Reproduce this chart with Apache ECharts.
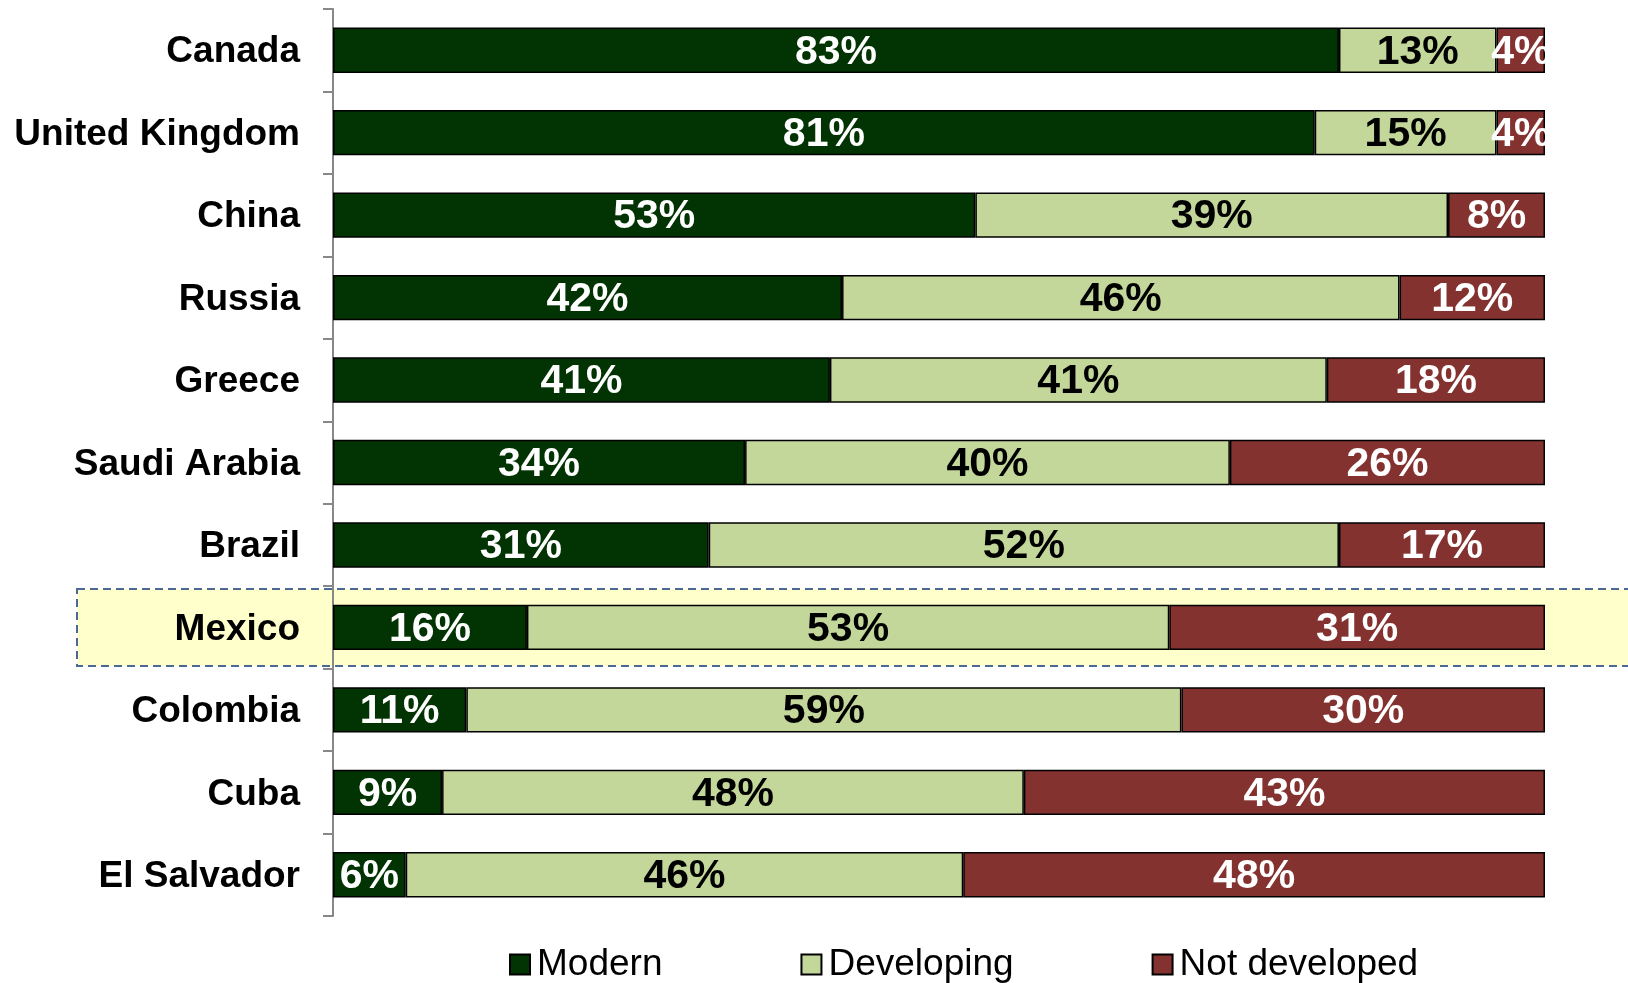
<!DOCTYPE html>
<html>
<head>
<meta charset="utf-8">
<script src="https://cdn.jsdelivr.net/npm/echarts@6/dist/echarts.min.js"></script>
<style>
  html, body { margin: 0; padding: 0; background: #fff; }
  #main { width: 1628px; height: 983px; }
</style>
</head>
<body>
<div id="main"></div>
<script>
// categories, top to bottom
var countries = ["Canada", "United Kingdom", "China", "Russia", "Greece", "Saudi Arabia",
  "Brazil", "Mexico", "Colombia", "Cuba", "El Salvador"];
var modern = [83, 81, 53, 42, 41, 34, 31, 16, 11, 9, 6];
var developing = [13, 15, 39, 46, 41, 40, 52, 53, 59, 48, 46];
var notDeveloped = [4, 4, 8, 12, 18, 26, 17, 31, 30, 43, 48];
var highlighted = "Mexico";

var font = "'Liberation Sans', Arial, sans-serif";

function barSeries(name, data, color, labelColor) {
  return {
    name: name,
    type: "bar",
    stack: "total",
    data: data,
    barWidth: "55%",
    itemStyle: { color: color, borderColor: "#000", borderWidth: 1.5 },
    label: {
      show: true,
      position: "inside",
      offset: [0, 2],
      formatter: "{c}%",
      color: labelColor,
      fontFamily: font,
      fontWeight: "bold",
      fontSize: 41,
    },
    emphasis: { disabled: true },
  };
}

var chart = echarts.init(document.getElementById("main"));
var option = {
  animation: false,
  grid: { left: 333, right: 83, top: 9, bottom: 67 },
  xAxis: {
    type: "value",
    min: 0,
    max: 100,
    show: false,
  },
  yAxis: {
    type: "category",
    inverse: true,
    data: countries,
    axisLine: { show: true, lineStyle: { color: "#888", width: 2 } },
    axisTick: { show: true, length: 10, lineStyle: { color: "#888", width: 2 } },
    axisLabel: {
      color: "#000",
      fontFamily: font,
      fontWeight: "bold",
      fontSize: 37,
      margin: 33,
      formatter: "{n|{value}}",
      rich: { n: { fontFamily: font, fontWeight: "bold", fontSize: 37, color: "#000", padding: [4, 0, 0, 0] } },
    },
  },
  legend: {
    left: 509,
    top: 946,
    padding: 0,
    icon: "rect",
    itemWidth: 20,
    itemHeight: 20,
    itemGap: 138,
    textStyle: { fontFamily: font, fontSize: 37, color: "#000", padding: [0, 0, 0, 2] },
    data: ["Modern", "Developing", "Not developed"],
  },
  series: [
    barSeries("Modern", modern, "#023302", "#fff"),
    barSeries("Developing", developing, "#C4D79B", "#000"),
    barSeries("Not developed", notDeveloped, "#843230", "#fff"),
  ],
};
chart.setOption(option);

// highlight band around the selected country, taken from the axis scale
var idx = countries.indexOf(highlighted);
var yc = chart.convertToPixel({ yAxisIndex: 0 }, countries[idx]);
var yn = chart.convertToPixel({ yAxisIndex: 0 }, countries[idx + 1]);
var band = Math.abs(yn - yc);
chart.setOption({
  graphic: [{
    type: "rect",
    z: -10,
    shape: { x: 77, y: yc - band * 0.467, width: 1700, height: band * 0.934 },
    style: { fill: "#FFFFCC", stroke: "#4A6A94", lineWidth: 2, lineDash: [8, 5] },
  }],
});
</script>
</body>
</html>
